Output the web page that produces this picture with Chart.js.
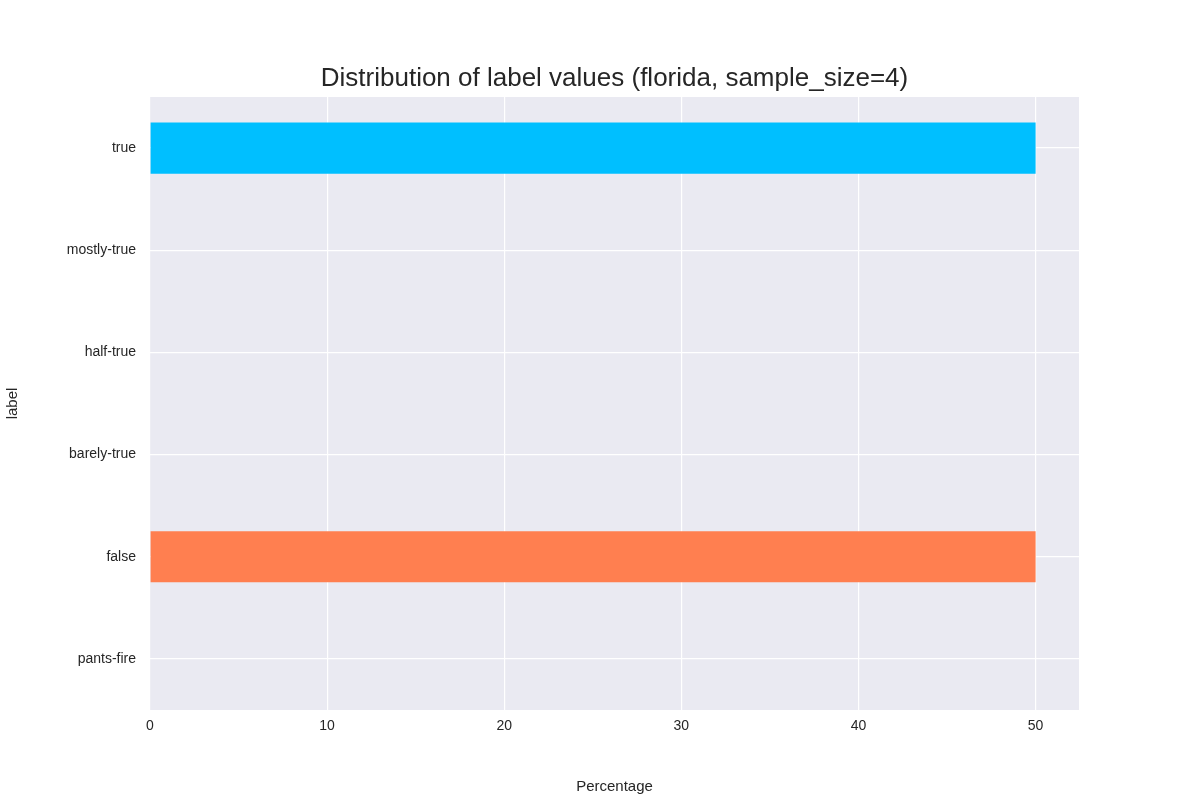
<!DOCTYPE html>
<html>
<head>
<meta charset="utf-8">
<script src="https://cdn.jsdelivr.net/npm/chart.js@4"></script>
<style>
  body { margin: 0; background: #fff; }
  #wrap { width: 1200px; height: 800px; }
</style>
</head>
<body>
<div id="wrap"><canvas id="c" width="1200" height="800"></canvas></div>
<script>
const labels = ['true', 'mostly-true', 'half-true', 'barely-true', 'false', 'pants-fire'];
const percentages = [50, 0, 0, 0, 50, 0];
const barColors = ['#00BFFF', '#00BFFF', '#00BFFF', '#00BFFF', '#FF7F50', '#FF7F50'];
const xTicks = [0, 10, 20, 30, 40, 50];

const FONT = 'Liberation Sans, Arial, sans-serif';

// plot background + title drawn by hand so the layout lines up
const plotBg = {
    id: 'plotBg',
    beforeDraw(chart) {
        const { ctx, chartArea: a } = chart;
        ctx.save();
        ctx.fillStyle = '#EAEAF2';
        ctx.fillRect(a.left, a.top, a.right - a.left, a.bottom - a.top);
        ctx.fillStyle = '#262626';
        ctx.font = '26px ' + FONT;
        ctx.textAlign = 'center';
        ctx.textBaseline = 'middle';
        ctx.fillText('Distribution of label values (florida, sample_size=4)', (a.left + a.right) / 2, 79);
        ctx.restore();
    }
};

new Chart(document.getElementById('c'), {
    type: 'bar',
    data: {
        labels: labels,
        datasets: [{
            data: percentages,
            backgroundColor: barColors,
            categoryPercentage: 1,
            barPercentage: 0.5
        }]
    },
    options: {
        indexAxis: 'y',
        responsive: false,
        animation: false,
        layout: { padding: { top: 97, right: 121, left: 0, bottom: 0 } },
        plugins: { legend: { display: false }, title: { display: false }, tooltip: { enabled: false } },
        scales: {
            x: {
                min: 0,
                max: 52.45,
                afterBuildTicks(scale) { scale.ticks = xTicks.map(v => ({ value: v })); },
                afterFit(scale) { scale.height = 90; },
                grid: { color: '#FFFFFF', lineWidth: 1.2, drawTicks: false },
                border: { display: false },
                ticks: { color: '#262626', font: { size: 14, family: FONT }, padding: 8 },
                title: { display: true, text: 'Percentage', color: '#262626', font: { size: 15, family: FONT }, padding: { top: 2 } }
            },
            y: {
                offset: true,
                afterFit(scale) { scale.width = 150; },
                grid: { color: '#FFFFFF', lineWidth: 1.2, offset: false, drawTicks: false },
                border: { display: false },
                ticks: { color: '#262626', font: { size: 14, family: FONT }, padding: 14 },
                title: { display: true, text: 'label', color: '#262626', font: { size: 15, family: FONT } }
            }
        }
    },
    plugins: [plotBg]
});
</script>
</body>
</html>
